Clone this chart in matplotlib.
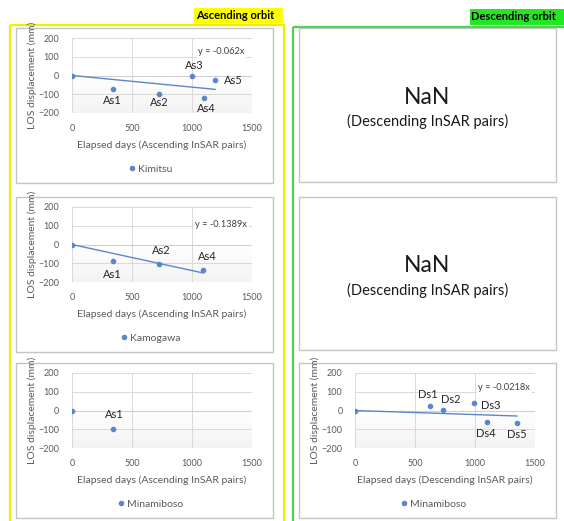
import matplotlib.pyplot as plt
import matplotlib.patches as mpatches
from matplotlib.lines import Line2D
import numpy as np

W, H = 564, 521
plt.rcParams['font.family'] = ['Lato', 'DejaVu Sans']

# ---- data ----
kimitsu_days = [0, 338, 728, 997, 1097, 1192]
kimitsu_los = [0, -70, -96, 0, -119, -26]
kimitsu_names = ['', 'As1', 'As2', 'As3', 'As4', 'As5']
kimitsu_slope = -0.062
kimitsu_eq = 'y = -0.062x'

kamogawa_days = [0, 338, 728, 1094]
kamogawa_los = [0, -88, -105, -137]
kamogawa_names = ['', 'As1', 'As2', 'As4']
kamogawa_slope = -0.1389
kamogawa_eq = 'y = -0.1389x'

minamiboso_asc_days = [0, 338]
minamiboso_asc_los = [0, -96]
minamiboso_asc_names = ['', 'As1']

minamiboso_desc_days = [0, 624, 735, 989, 1099, 1350]
minamiboso_desc_los = [0, 26, 5, 39, -61, -66]
minamiboso_desc_names = ['', 'Ds1', 'Ds2', 'Ds3', 'Ds4', 'Ds5']
minamiboso_desc_slope = -0.0218
minamiboso_desc_eq = 'y = -0.0218x'

xticks = [0, 500, 1000, 1500]
yticks = [-200, -100, 0, 100, 200]

# label offsets in pixels (layout only)
kimitsu_off = [(0, 0), (0, -12), (0, -9), (3, 10), (3, -11), (18, 0)]
kamogawa_off = [(0, 0), (0, -13), (2, 14), (4, 14)]
minamiboso_asc_off = [(0, 0), (2, 14)]
minamiboso_desc_off = [(0, 0), (-2, 11), (8, 10), (17, -2), (-1, -12), (0, -12)]

blue = '#5b87c9'

fig = plt.figure(figsize=(W / 100, H / 100), dpi=100)

# background layer in pixel coordinates
bg = fig.add_axes([0, 0, 1, 1])
bg.set_xlim(0, W)
bg.set_ylim(H, 0)
bg.axis('off')

# orbit frames and headers
bg.add_patch(mpatches.Rectangle((10, 25), 274, 510, fill=False, ec='#eeee00', lw=1.6))
bg.add_patch(mpatches.Rectangle((293, 27), 290, 510, fill=False, ec='#4fcf4f', lw=1.6))
bg.add_patch(mpatches.Rectangle((194, 8), 89, 15, fc='#ffff00', ec='none'))
bg.text(196, 15.5, 'Ascending orbit', fontsize=8, fontweight='bold', va='center', ha='left')
bg.add_patch(mpatches.Rectangle((470, 9), 100, 16, fc='#22e822', ec='none'))
bg.text(471, 17, 'Descending orbit', fontsize=8, fontweight='bold', va='center', ha='left')

left_boxes = [(16, 28, 273, 183), (16, 197, 273, 352), (16, 363, 273, 518)]
right_boxes = [(299, 28, 556, 182), (299, 197, 556, 350), (299, 363, 556, 518)]
for x0, y0, x1, y1 in left_boxes + right_boxes:
    bg.add_patch(mpatches.Rectangle((x0, y0), x1 - x0, y1 - y0, fc='white', ec='#c4c4c4', lw=1))

# NaN boxes
for x0, y0, x1, y1 in right_boxes[:2]:
    cx = (x0 + x1) / 2
    bg.text(cx, y0 + 69, 'NaN', fontsize=16.5, ha='center', va='center', color='#1a1a1a')
    bg.text(cx, y0 + 93, '(Descending InSAR pairs)', fontsize=10.5, ha='center', va='center',
            color='#1a1a1a')


def panel(box, days, los, names, offsets, xlabel, name, slope=None, eq=None, eq_y=120):
    x0, y0, x1, y1 = box
    ax_l, ax_t = x0 + 56, y0 + 10
    ax = fig.add_axes([ax_l / W, 1 - (ax_t + 75) / H, 180 / W, 75 / H])
    ax.set_xlim(0, 1500)
    ax.set_ylim(-200, 200)
    ax.set_xticks(xticks)
    ax.set_yticks(yticks)
    ax.tick_params(length=0, labelsize=6.5, colors='#595959', pad=8)
    ax.tick_params(axis='y', pad=9)
    for s in ax.spines.values():
        s.set_visible(False)
    ax.grid(True, color='#d9d9d9', lw=0.7)
    ax.set_axisbelow(True)
    # soft shading below zero
    grad = np.linspace(0, 1, 50).reshape(-1, 1)
    ax.imshow(grad, extent=[0, 1500, -200, 0], aspect='auto', cmap='Greys',
              vmin=0, vmax=10, origin='upper', zorder=0)
    ax.axhline(0, color='#d0d0d0', lw=0.8, zorder=1)

    if slope is not None:
        xs = np.array([0, max(days)])
        ax.plot(xs, slope * xs, color=blue, lw=1, zorder=2)
        ax.text(1245, eq_y, eq, fontsize=6.7, ha='center', va='center', color='#404040',
                bbox=dict(fc='white', ec='none', pad=1), zorder=3)
    ax.plot(days, los, 'o', color=blue, ms=3, zorder=4)
    for d, v, n, off in zip(days, los, names, offsets):
        if n:
            ax.annotate(n, (d, v), xytext=off, textcoords='offset pixels',
                        ha='center', va='center', fontsize=8, color='#262626', zorder=5)

    ax.set_xlabel(xlabel, fontsize=7.5, color='#595959')
    ax.xaxis.set_label_coords(0.5, -0.36)
    ax.set_ylabel('LOS displacement (mm)', fontsize=7.5, color='#595959')
    ax.yaxis.set_label_coords(-0.195, 0.5)
    h = Line2D([], [], marker='o', ls='none', color=blue, ms=3)
    ax.legend([h], [name], loc='center', bbox_to_anchor=(0.43, -0.75), frameon=False,
              fontsize=7.5, labelcolor='#595959', handletextpad=0.1, handlelength=1)
    return ax


asc_label = 'Elapsed days (Ascending InSAR pairs)'
desc_label = 'Elapsed days (Descending InSAR pairs)'

panel(left_boxes[0], kimitsu_days, kimitsu_los, kimitsu_names, kimitsu_off,
      asc_label, 'Kimitsu', kimitsu_slope, kimitsu_eq, eq_y=126)
panel(left_boxes[1], kamogawa_days, kamogawa_los, kamogawa_names, kamogawa_off,
      asc_label, 'Kamogawa', kamogawa_slope, kamogawa_eq, eq_y=107)
panel(left_boxes[2], minamiboso_asc_days, minamiboso_asc_los, minamiboso_asc_names,
      minamiboso_asc_off, asc_label, 'Minamiboso')
panel(right_boxes[2], minamiboso_desc_days, minamiboso_desc_los, minamiboso_desc_names,
      minamiboso_desc_off, desc_label, 'Minamiboso', minamiboso_desc_slope,
      minamiboso_desc_eq, eq_y=123)

fig.savefig('out.png', dpi=100)
